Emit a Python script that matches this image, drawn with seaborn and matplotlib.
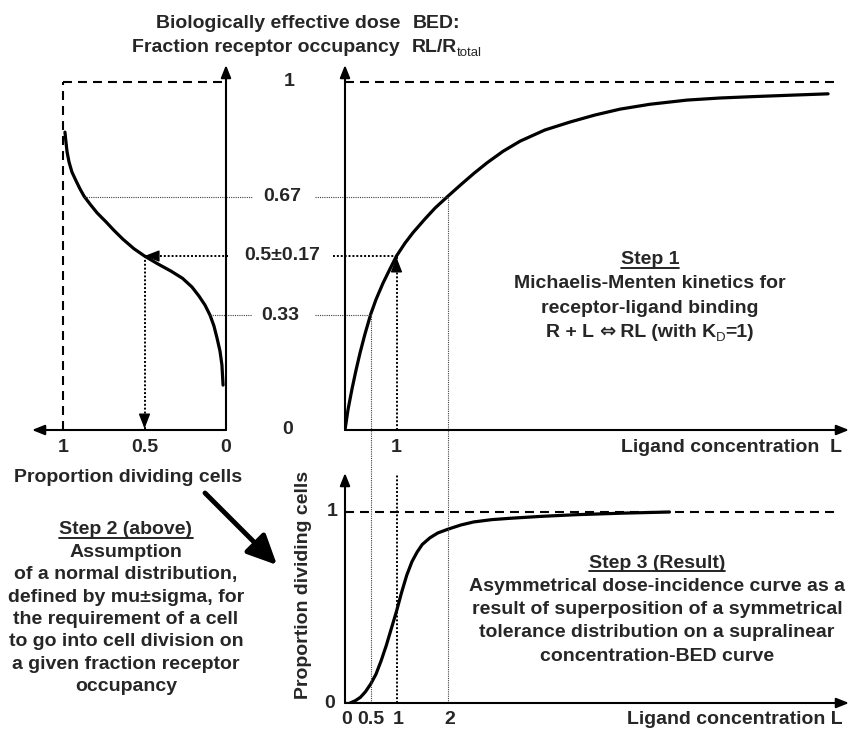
import matplotlib
matplotlib.use("Agg")
import matplotlib.pyplot as plt
from matplotlib.lines import Line2D
import seaborn as sns

sns.set_style("white")
plt.rcParams["font.family"] = ["Liberation Sans", "DejaVu Sans"]
plt.rcParams["font.weight"] = "bold"
plt.rcParams["font.size"] = 14

W, H = 850, 730

# Step 1: ligand concentration vs fraction receptor occupancy
mm_conc = [0, 0.058, 0.136, 0.214, 0.291, 0.388, 0.5, 0.602, 0.738, 0.874, 1.0, 1.165, 1.32,
           1.55, 1.75, 2.0, 2.25, 2.5, 2.76, 3.07, 3.4, 3.88, 4.37, 4.85, 5.34, 5.92, 6.64,
           7.28, 7.92, 8.64, 9.38]
mm_bed = [0, 0.058, 0.118, 0.172, 0.221, 0.276, 0.333, 0.375, 0.422, 0.463, 0.5, 0.537, 0.567,
          0.606, 0.638, 0.672, 0.705, 0.737, 0.768, 0.801, 0.83, 0.862, 0.885, 0.905, 0.922,
          0.936, 0.948, 0.954, 0.958, 0.962, 0.966]

# Step 2: tolerance distribution, proportion dividing cells vs BED
tol_prop = [0.988, 0.982, 0.975, 0.963, 0.945, 0.92, 0.896, 0.871, 0.834, 0.791, 0.736, 0.688,
            0.634, 0.565, 0.5, 0.421, 0.339, 0.267, 0.209, 0.166, 0.129, 0.098, 0.074, 0.055,
            0.037, 0.025, 0.018]
tol_bed = [0.856, 0.828, 0.799, 0.77, 0.741, 0.716, 0.693, 0.672, 0.649, 0.624, 0.598, 0.574,
           0.549, 0.521, 0.5, 0.478, 0.457, 0.436, 0.411, 0.385, 0.359, 0.33, 0.299, 0.264,
           0.227, 0.187, 0.129]

# Step 3: resulting dose-incidence curve
res_conc = [0.1, 0.2, 0.3, 0.4, 0.5, 0.6, 0.7, 0.8, 0.9, 1.0, 1.1, 1.2, 1.3, 1.4, 1.5, 1.65,
            1.8, 2.0, 2.25, 2.5, 2.85, 3.2, 3.8, 4.5, 5.4, 6.3]
res_prop = [0, 0.012, 0.03, 0.06, 0.1, 0.15, 0.22, 0.3, 0.39, 0.48, 0.58, 0.67, 0.74, 0.79,
            0.83, 0.865, 0.89, 0.91, 0.932, 0.948, 0.96, 0.967, 0.977, 0.986, 0.994, 1.0]

bed_levels = [1, 0.67, 0.5, 0.33, 0]
bed_labels = ["1", "0.67", "0.5\u00b10.17", "0.33", "0"]
prop_ticks = [1, 0.5, 0]
prop_labels = ["1", "0.5", "0"]
conc_ticks = [0, 0.5, 1, 2]
conc_labels = ["0", "0.5", "1", "2"]

# crossings used for the guide lines
mu = 0.5
prop_at_067 = 0.871
prop_at_033 = 0.098

# pixel scales of the original drawing
PX_P, PX_B, PX_L, PX_R = 163, 348, 51.5, 191


def fx(px):
    return px / W


def fy(py):
    return 1 - py / H


fig = plt.figure(figsize=(W / 100, H / 100), dpi=100)

ax_l = fig.add_axes([fx(20), fy(430), 206 / W, 370 / H])
ax_l.set_xlim(206 / PX_P, 0)
ax_l.set_ylim(0, 370 / PX_B)

ax_t = fig.add_axes([fx(345), fy(430), 505 / W, 370 / H])
ax_t.set_xlim(0, 505 / PX_L)
ax_t.set_ylim(0, 370 / PX_B)

ax_b = fig.add_axes([fx(345), fy(703), 505 / W, 273 / H])
ax_b.set_xlim(0, 505 / PX_L)
ax_b.set_ylim(0, 273 / PX_R)

for ax in (ax_l, ax_t, ax_b):
    ax.set_axis_off()

dashed = dict(color="black", lw=1.5, linestyle=(0, (4.3, 2.9)), clip_on=False)
thin_dot = dict(color="0.25", lw=0.8, linestyle=(0, (1, 1)), clip_on=False)
bold_dot = dict(color="black", lw=1.4, linestyle=(0, (1, 1)), clip_on=False)
curve = dict(sort=False, estimator=None, color="black", lw=2.3)


def arrow(ax, start, end, lw=1.5, hl=0.75, hw=0.3, coords="data"):
    ax.annotate("", xy=end, xytext=start, xycoords=coords, textcoords=coords,
                arrowprops=dict(arrowstyle=f"-|>,head_length={hl},head_width={hw}",
                                lw=lw, color="black", shrinkA=0, shrinkB=0,
                                mutation_scale=10),
                annotation_clip=False)


# ---------------- left panel (Step 2 distribution) ----------------
sns.lineplot(x=tol_prop, y=tol_bed, ax=ax_l, **curve)
arrow(ax_l, (0, 0), (194 / PX_P, 0))
arrow(ax_l, (0, 0), (0, 365 / PX_B))
ax_l.plot([1, 1], [0, 1], **dashed)
ax_l.plot([1, 0], [1, 1], **dashed)
ax_l.plot([prop_at_067, -26 / PX_P], [0.67, 0.67], **thin_dot)
ax_l.plot([prop_at_033, -26 / PX_P], [0.33, 0.33], **thin_dot)
ax_l.plot([-2 / PX_P, mu], [mu, mu], **bold_dot)
arrow(ax_l, (mu - 12 / PX_P, mu), (mu, mu), lw=1.0, hl=0.9, hw=0.35)
ax_l.plot([mu, mu], [mu, 0], **bold_dot)
arrow(ax_l, (mu, 12 / PX_B), (mu, 0.004), lw=1.0, hl=0.9, hw=0.35)
for p, lab in zip(prop_ticks, prop_labels):
    ax_l.annotate(lab, xy=(p, 0), xytext=(0, -17), textcoords="offset pixels",
                  ha="center", va="center", annotation_clip=False)

# ---------------- top right panel (Step 1 kinetics) ----------------
sns.lineplot(x=mm_conc, y=mm_bed, ax=ax_t, **curve)
arrow(ax_t, (0, 0), (504 / PX_L, 0))
arrow(ax_t, (0, 0), (0, 365 / PX_B))
ax_t.plot([0, 495 / PX_L], [1, 1], **dashed)
ax_t.plot([-30 / PX_L, 2.0], [0.67, 0.67], **thin_dot)
ax_t.plot([-30 / PX_L, 0.5], [0.33, 0.33], **thin_dot)
ax_t.plot([-12 / PX_L, 1.0], [mu, mu], **bold_dot)
ax_t.plot([0.5, 0.5], [0.333, 0], **thin_dot)
ax_t.plot([2.0, 2.0], [0.67, 0], **thin_dot)
ax_t.plot([1.0, 1.0], [0, mu], **bold_dot)
arrow(ax_t, (1.0, mu - 12 / PX_B), (1.0, mu - 0.004), lw=1.0, hl=0.9, hw=0.35)

label_dx = [-56, -63, -63, -65, -57]
for v, lab, dx in zip(bed_levels, bed_labels, label_dx):
    ax_t.annotate(lab, xy=(0, v), xytext=(dx, 0), textcoords="offset pixels",
                  ha="center", va="center", annotation_clip=False)
ax_t.annotate("1", xy=(1, 0), xytext=(0, -17), textcoords="offset pixels",
              ha="center", va="center", annotation_clip=False)
fig.text(fx(842), fy(447), "Ligand concentration  L", ha="right", va="center")

# ---------------- bottom right panel (Step 3 result) ----------------
sns.lineplot(x=res_conc, y=res_prop, ax=ax_b, **curve)
ax_b.plot([0, 0.1], [0, 0], color="black", lw=2.3)
arrow(ax_b, (0, 0), (504 / PX_L, 0))
arrow(ax_b, (0, 0), (0, 230 / PX_R))
ax_b.plot([0, 495 / PX_L], [1, 1], **dashed)
ax_b.axvline(0.5, **thin_dot)
ax_b.axvline(2.0, **thin_dot)
ax_b.plot([1.0, 1.0], [0, 228 / PX_R], **bold_dot)
for v, lab, dx in zip([1, 0], ["1", "0"], [-13, -15]):
    ax_b.annotate(lab, xy=(0, v), xytext=(dx, 0), textcoords="offset pixels",
                  ha="center", va="center", annotation_clip=False)
conc_dx = [2, 0, 2, 2]
for c, lab, dx in zip(conc_ticks, conc_labels, conc_dx):
    ax_b.annotate(lab, xy=(c, 0), xytext=(dx, -16), textcoords="offset pixels",
                  ha="center", va="center", annotation_clip=False)
fig.text(fx(843), fy(719), "Ligand concentration L", ha="right", va="center")
fig.text(fx(304), fy(585), "Proportion dividing cells", rotation=90, ha="center", va="center")

# ---------------- free text ----------------
fig.text(fx(128), fy(477), "Proportion dividing cells", ha="center", va="center")
arrow(ax_l, (fx(205), fy(493)), (fx(277), fy(565)), lw=3.5, hl=1.8, hw=0.85,
      coords="figure fraction")

fig.text(fx(400), fy(23), "Biologically effective dose", ha="right", va="center")
fig.text(fx(413), fy(23), "BED:", ha="left", va="center")
fig.text(fx(400), fy(47), "Fraction receptor occupancy", ha="right", va="center")
rl = fig.text(fx(412), fy(47), "RL/R", ha="left", va="center")

underlined = []

step2 = ["Step 2 (above)", "Assumption", "of a normal distribution,",
         "defined by mu\u00b1sigma, for", "the requirement of a cell",
         "to go into cell division on", "a given fraction receptor", "occupancy"]
for i, line in enumerate(step2):
    t = fig.text(fx(126), fy(530 + 22.4 * i), line, ha="center", va="center")
    if i == 0:
        underlined.append(t)

step1 = ["Step 1", "Michaelis-Menten kinetics for", "receptor-ligand binding"]
for i, line in enumerate(step1):
    t = fig.text(fx(650), fy(260 + 24 * i), line, ha="center", va="center")
    if i == 0:
        underlined.append(t)
kd_parts = [
    fig.text(0, fy(337), "R + L ", ha="left", va="baseline"),
    fig.text(0, fy(337), "\u21d4", ha="left", va="baseline", family="DejaVu Sans"),
    fig.text(0, fy(337), " RL (with K", ha="left", va="baseline"),
    fig.text(0, fy(341), "D", ha="left", va="baseline", fontsize=9.5, fontweight="normal"),
    fig.text(0, fy(337), "=1)", ha="left", va="baseline"),
]

step3 = ["Step 3 (Result)", "Asymmetrical dose-incidence curve as a",
         "result of superposition of a symmetrical",
         "tolerance distribution on a supralinear", "concentration-BED curve"]
for i, line in enumerate(step3):
    t = fig.text(fx(657), fy(563 + 23.3 * i), line, ha="center", va="center")
    if i == 0:
        underlined.append(t)

# place the pieces that need the renderer
fig.canvas.draw()
r = fig.canvas.get_renderer()

bb = rl.get_window_extent(r)
fig.text(bb.x1 / W, fy(53), "total", ha="left", va="center", fontsize=9.5, fontweight="normal")

widths = [p.get_window_extent(r).width for p in kd_parts]
x = 650 - sum(widths) / 2
for p, w in zip(kd_parts, widths):
    p.set_x(fx(x))
    x += w

for t in underlined:
    bb = t.get_window_extent(r)
    fig.add_artist(Line2D([bb.x0 / W, bb.x1 / W], [(bb.y0 + 1) / H] * 2,
                          transform=fig.transFigure, color="black", lw=1.2))

fig.savefig("out.png", dpi=100)
